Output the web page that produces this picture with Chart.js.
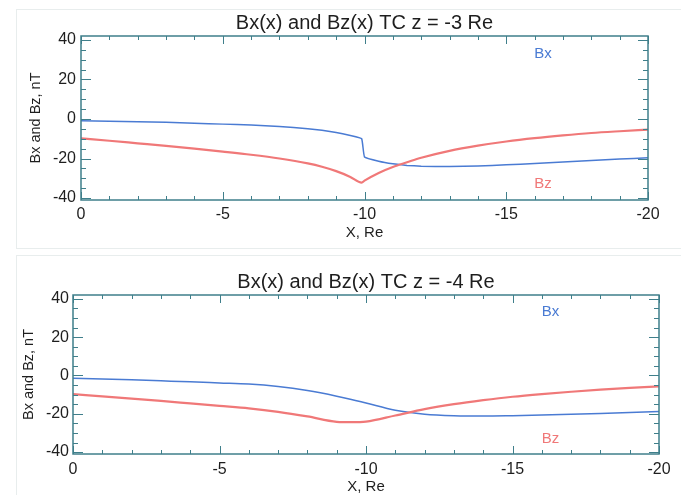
<!DOCTYPE html>
<html><head><meta charset="utf-8">
<script src="https://cdn.jsdelivr.net/npm/chart.js@4.4.1/dist/chart.umd.min.js"></script>
<style>
html,body{margin:0;padding:0;background:#fff;overflow:hidden;width:681px;height:495px;}
.panel{position:absolute;left:0;width:681px;height:250px;}
.frame{position:absolute;border:1px solid #e8eded;}
canvas{display:block;}
</style></head><body>
<div class="frame" style="left:16px;top:9px;width:680px;height:238px"></div>
<div class="frame" style="left:16px;top:255px;width:680px;height:245px"></div>
<div class="panel" style="top:0"><canvas id="c1" width="681" height="250"></canvas></div>
<div class="panel" style="top:250px"><canvas id="c2" width="681" height="250"></canvas></div>
<script>
// ---- data ----
const titleTop = 'Bx(x) and Bz(x) TC z = -3 Re';
const titleBottom = 'Bx(x) and Bz(x) TC z = -4 Re';
const xTitle = 'X, Re';
const yTitle = 'Bx and Bz, nT';

const xTop   = [0,-1,-2,-3,-4,-5,-6,-7,-8,-8.5,-9,-9.5,-9.9,-10,-10.5,-11,-11.5,-12,-13,-14,-15,-16,-17,-18,-19,-20];
const bxTop  = [-0.9,-1.1,-1.4,-1.7,-2.1,-2.6,-3.1,-3.8,-4.9,-5.7,-6.8,-8.4,-10.0,-19.2,-21.4,-22.7,-23.5,-23.9,-24.1,-23.8,-23.2,-22.5,-21.8,-21.0,-20.3,-19.6];
const bzTop  = [-9.8,-11.0,-12.3,-13.6,-15.0,-16.5,-18.1,-20.0,-22.5,-24.2,-26.4,-29.3,-32.2,-31.2,-27.3,-24.3,-21.9,-19.6,-16.1,-13.5,-11.4,-9.7,-8.3,-7.1,-6.2,-5.4];

const xBot   = [0,-1,-2,-3,-4,-5,-6,-7,-8,-9,-9.5,-10,-11,-12,-13,-14,-15,-16,-17,-18,-19,-20];
const bxBot  = [-1.4,-1.8,-2.3,-2.8,-3.3,-3.9,-4.5,-5.8,-7.9,-10.8,-12.5,-14.4,-18.2,-20.2,-21.0,-21.2,-21.0,-20.7,-20.3,-19.8,-19.3,-18.8];
const bzBot  = [-9.7,-10.9,-12.1,-13.3,-14.6,-15.9,-17.2,-19.0,-21.4,-24.2,-24.4,-24.1,-20.9,-17.6,-15.0,-12.9,-11.1,-9.7,-8.5,-7.4,-6.5,-5.7];

const xTicks = [0,-5,-10,-15,-20];
const yTicks = [-40,-20,0,20,40];
const xMinorStep = 1;
const yMinorStep = 5;
const yRange = [-41, 42];
const labelX = -16.3;
const labelY = {Bx: 33, Bz: -33};

// ---- style ----
const BLUE = '#4a7bd3';
const RED = '#f07878';
const AXIS = '#3f7f8b';
const TEXT = '#1e1e1e';
const FONT = '"Liberation Sans", Arial, Helvetica, sans-serif';

const boxTicks = {
  id: 'boxTicks',
  afterDraw(chart) {
    const {ctx, chartArea: a, scales: {x, y}} = chart;
    ctx.save();
    ctx.strokeStyle = AXIS;
    ctx.lineWidth = 1;
    ctx.beginPath();
    for (let v = xTicks[xTicks.length-1]; v <= xTicks[0] + 1e-9; v += xMinorStep) {
      const major = xTicks.some(t => Math.abs(t - v) < 1e-6);
      const len = major ? 8 : 4;
      const px = Math.round(x.getPixelForValue(v)) + 0.5;
      ctx.moveTo(px, a.bottom); ctx.lineTo(px, a.bottom - len);
      ctx.moveTo(px, a.top); ctx.lineTo(px, a.top + len);
    }
    for (let v = yTicks[0]; v <= yTicks[yTicks.length-1] + 1e-9; v += yMinorStep) {
      const major = yTicks.some(t => Math.abs(t - v) < 1e-6);
      const len = major ? 10 : 5;
      const py = Math.round(y.getPixelForValue(v)) + 0.5;
      ctx.moveTo(a.left, py); ctx.lineTo(a.left + len, py);
      ctx.moveTo(a.right, py); ctx.lineTo(a.right - len, py);
    }
    ctx.stroke();
    ctx.lineWidth = 1.5;
    ctx.strokeRect(a.left, a.top, a.right - a.left, a.bottom - a.top);
    ctx.font = '15px ' + FONT;
    ctx.textAlign = 'center';
    ctx.textBaseline = 'middle';
    ctx.fillStyle = BLUE;
    ctx.fillText('Bx', x.getPixelForValue(labelX), y.getPixelForValue(labelY.Bx));
    ctx.fillStyle = RED;
    ctx.fillText('Bz', x.getPixelForValue(labelX), y.getPixelForValue(labelY.Bz));
    ctx.restore();
  }
};

function makeChart(id, title, xs, bx, bz, geo) {
  const pts = arr => xs.map((v, i) => ({x: v, y: arr[i]}));
  const bxCurve = geo.bxMonotone ? {cubicInterpolationMode: 'monotone'} : {tension: 0.1};
  return new Chart(document.getElementById(id), {
    type: 'line',
    data: {
      datasets: [
        {label: 'Bz', data: pts(bz), borderColor: RED, borderWidth: 2.2, pointRadius: 0, cubicInterpolationMode: 'monotone', fill: false},
        Object.assign({label: 'Bx', data: pts(bx), borderColor: BLUE, borderWidth: 1.5, pointRadius: 0, fill: false}, bxCurve)
      ]
    },
    options: {
      responsive: false,
      animation: false,
      events: [],
      layout: {padding: {left: 0, right: geo.right, top: 0, bottom: 0}},
      plugins: {
        legend: {display: false},
        tooltip: {enabled: false},
        title: {
          display: true, text: title, fullSize: false, color: TEXT,
          font: {family: FONT, size: 20, weight: 'normal', lineHeight: 1.2},
          padding: {top: geo.titleTop, bottom: geo.titleBottom}
        }
      },
      scales: {
        x: {
          type: 'linear', min: -20, max: 0, reverse: true,
          afterBuildTicks: s => { s.ticks = xTicks.map(v => ({value: v})); },
          afterFit: s => { s.height = geo.xh; },
          grid: {display: false, drawTicks: false},
          border: {display: false},
          ticks: {color: TEXT, font: {family: FONT, size: 16}, padding: geo.xpad, autoSkip: false, maxRotation: 0,
                  callback: v => String(v)},
          title: {display: true, text: xTitle, color: TEXT, font: {family: FONT, size: 15, lineHeight: 1.2}, padding: {top: 0, bottom: geo.xtb}}
        },
        y: {
          type: 'linear', min: yRange[0], max: yRange[1],
          afterBuildTicks: s => { s.ticks = yTicks.map(v => ({value: v})); },
          afterFit: s => { s.width = geo.yw; },
          grid: {display: false, drawTicks: false},
          border: {display: false},
          ticks: {color: TEXT, font: {family: FONT, size: 16}, padding: geo.ypad, autoSkip: false,
                  callback: v => String(v)},
          title: {display: true, text: yTitle, color: TEXT, font: {family: FONT, size: 14.5, lineHeight: 1.2}, padding: {top: geo.ytt, bottom: 0}}
        }
      }
    },
    plugins: [boxTicks]
  });
}

makeChart('c1', titleTop, xTop, bxTop, bzTop,
  {right: 33, titleTop: 11, titleBottom: 1, xh: 50, xpad: 5.4, xtb: 8, yw: 81, ypad: 5, ytt: 27, bxMonotone: false});
makeChart('c2', titleBottom, xBot, bxBot, bzBot,
  {right: 22, titleTop: 20, titleBottom: 1, xh: 46, xpad: 6.4, xtb: 4.3, yw: 73, ypad: 4, ytt: 20, bxMonotone: true});
</script>
</body></html>
